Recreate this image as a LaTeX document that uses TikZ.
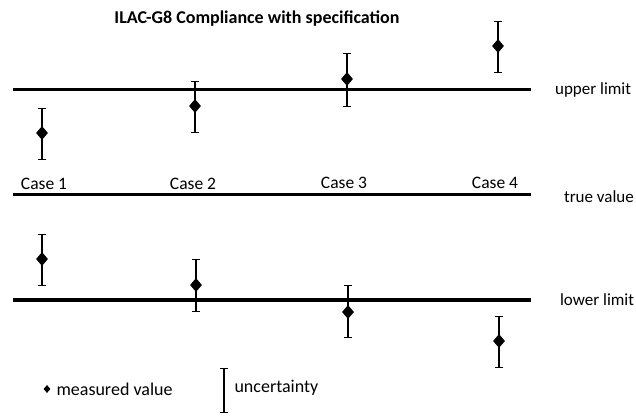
\documentclass[tikz,border=0pt]{standalone}
\usepackage{fontspec}
\setmainfont{Carlito}
\usetikzlibrary{shapes.geometric,arrows.meta}

\begin{document}
\begin{tikzpicture}[x=1pt,y=-1pt,
        limit/.style={line width=3.5pt},
        errbar/.style={line width=1.6pt,{Bar[width=8pt,line width=1.4pt]}-{Bar[width=8pt,line width=1.4pt]}},
        meas/.style={diamond,fill=black,inner sep=0pt,minimum width=12pt,minimum height=14pt},
        lbl/.style={font=\fontsize{17.5}{21}\selectfont},
        side/.style={font=\fontsize{17}{20}\selectfont,anchor=west}]
    \useasboundingbox (0,0) rectangle (636,415);
    % title
    \node[font=\fontsize{18}{21}\selectfont\bfseries] (title) at (257,19) {ILAC-G8 Compliance with specification};
    % limit lines
    \draw[limit] (13,89.5) -- (531,89.5) node[side,xshift=19pt] (upper) {upper limit};
    \draw[limit] (13,194.5) -- (531,194.5) node[side,xshift=28pt,yshift=-2pt] (true) {true value};
    \draw[limit] (13,300) -- (531,300) node[side,xshift=24pt] (lower) {lower limit};
    \node[lbl] (case1) at (44,184) {Case 1};
    \node[lbl] (case2) at (193,184) {Case 2};
    \node[lbl] (case3) at (344,183) {Case 3};
    \node[lbl] (case4) at (495,183) {Case 4};
    % measured values with uncertainty: x / top / value / bottom
    \foreach \x/\t/\m/\b in {42/108/133/160, 195/81/106/133, 347/53/79/107, 498/21/46/73,
                             42/234/259/286, 196/259/285/312, 348/285/312/338, 499/316/341/368} {
        \draw[errbar] (\x,\t) -- (\x,\b);
        \node[meas] at (\x,\m) {};
    }
    % legend
    \node[meas,minimum width=7pt,minimum height=8pt] (keymeas) at (47,389) {};
    \node[lbl,anchor=west,font=\fontsize{18}{21}\selectfont] (keymeastext) at (53,389) {measured value};
    \draw[errbar] (224,368) -- (224,413);
    \node[lbl,anchor=west,font=\fontsize{18}{21}\selectfont] (keyunc) at (231,388) {uncertainty};
\end{tikzpicture}
\end{document}
